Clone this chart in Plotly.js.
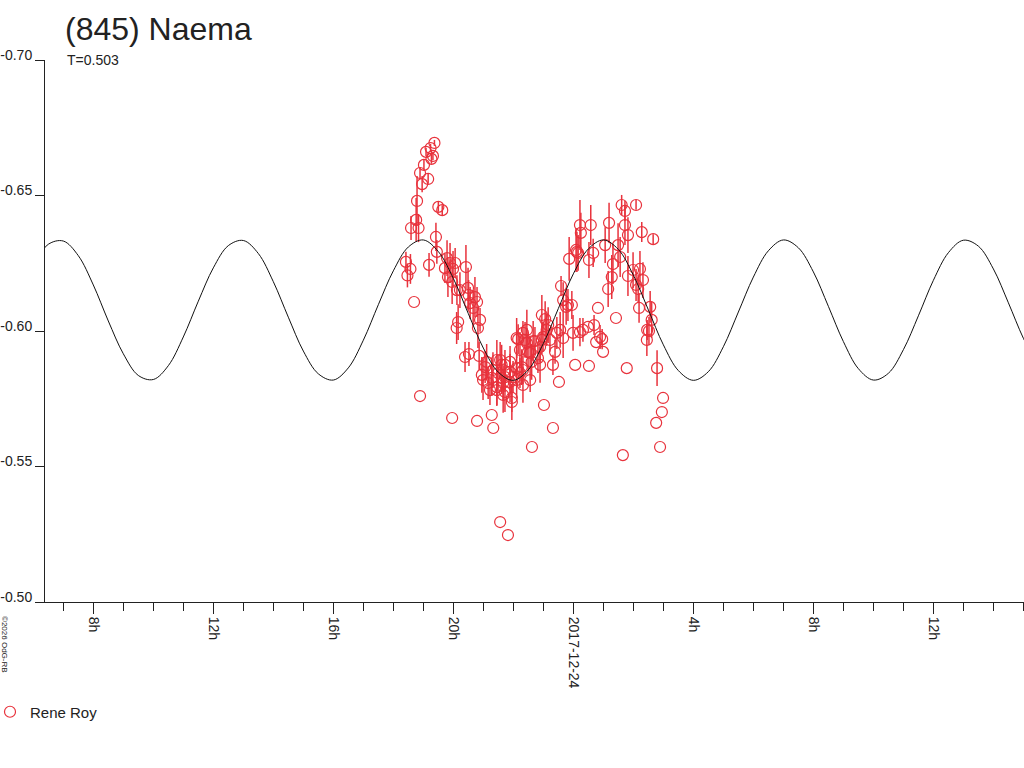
<!DOCTYPE html>
<html>
<head>
<meta charset="utf-8">
<script src="https://cdn.plot.ly/plotly-3.0.1.min.js"></script>
<style>
  html, body { margin: 0; padding: 0; background: #fff; }
  #myDiv { width: 1024px; height: 768px; }
</style>
</head>
<body>
<div id="myDiv"></div>
<script>
// hours are relative to 2017-12-24 00:00 (UT)
var baseDay = Date.UTC(2017, 11, 24);

// model curve, every half hour
var curveHours = [-18, -17.5, -17, -16.5, -16, -15.5, -15, -14.5, -14, -13.5,
  -13, -12.5, -12, -11.5, -11, -10.5, -10, -9.5, -9, -8.5,
  -8, -7.5, -7, -6.5, -6, -5.5, -5, -4.5, -4, -3.5,
  -3, -2.5, -2, -1.5, -1, -0.5, 0, 0.5, 1, 1.5,
  2, 2.5, 3, 3.5, 4, 4.5, 5, 5.5, 6, 6.5,
  7, 7.5, 8, 8.5, 9, 9.5, 10, 10.5, 11, 11.5,
  12, 12.5, 13, 13.5, 14, 14.5, 15, 15.5];
var curveMag = [-0.6244, -0.6320, -0.6332, -0.6278, -0.6170, -0.6037, -0.5916, -0.5836, -0.5821, -0.5872,
  -0.5978, -0.6110, -0.6233, -0.6315, -0.6334, -0.6286, -0.6182, -0.6051, -0.5926, -0.5842,
  -0.5819, -0.5864, -0.5966, -0.6097, -0.6222, -0.6310, -0.6336, -0.6293, -0.6194, -0.6064,
  -0.5937, -0.5848, -0.5818, -0.5857, -0.5954, -0.6083, -0.6211, -0.6303, -0.6336, -0.6301,
  -0.6206, -0.6078, -0.5949, -0.5854, -0.5818, -0.5850, -0.5942, -0.6070, -0.6199, -0.6296,
  -0.6336, -0.6307, -0.6218, -0.6091, -0.5961, -0.5861, -0.5819, -0.5844, -0.5931, -0.6056,
  -0.6187, -0.6289, -0.6335, -0.6313, -0.6229, -0.6104, -0.5973, -0.5869];

// observations (Rene Roy)
var obsHours = [-5.58, -5.53, -5.43, -5.41, -5.31, -5.24, -5.21, -5.16, -5.11, -5.11,
  -5.04, -4.98, -4.91, -4.84, -4.81, -4.76, -4.73, -4.68, -4.63, -4.58,
  -4.55, -4.50, -4.37, -4.28, -4.21, -4.11, -4.01, -3.94, -4.18, -4.04,
  -3.88, -3.78, -3.58, -3.51, -3.49, -3.44, -3.34, -3.28, -3.21, -3.11,
  -3.84, -3.89, -4.04, -3.61, -3.48, -3.18, -3.14, -3.21, -3.05, -3.01,
  -2.94, -2.89, -2.84, -2.78, -2.72, -2.72, -2.68, -2.67, -2.55, -2.55,
  -2.55, -2.51, -2.44, -2.39, -2.39, -2.34, -2.34, -2.28, -2.28, -2.28,
  -2.44, -2.18, -2.11, -2.11, -2.11, -2.05, -2.05, -2.01, -1.89, -1.89,
  -1.89, -1.84, -1.78, -1.78, -1.72, -1.68, -1.68, -1.68, -1.61, -1.55,
  -1.55, -1.51, -1.44, -1.44, -1.39, -1.38, -1.34, -1.28, -1.18, -1.11,
  -1.11, -1.05, -1.05, -1.01, -0.98, -0.94, -0.89, -0.84, -0.78, -0.68,
  -0.68, -0.61, -0.55, -0.48, -0.44, -0.41, -0.34, -0.34, -0.24, -0.14,
  -0.05, -0.18, -0.01, 0.06, 0.09, 0.12, 0.16, 0.22, 0.25, 0.22,
  0.32, 0.49, 0.52, 0.58, 0.66, 0.69, 0.76, 0.82, 0.89, 0.96,
  0.99, 0.52, 1.06, 1.19, 1.16, 1.28, 1.32, 1.42, 1.49, 1.56,
  1.61, 1.65, 1.72, 1.72, 1.78, 1.82, 1.82, 1.99, 2.09, 2.09,
  2.16, 2.19, 2.22, 2.28, 2.32, 2.46, 2.52, 2.56, 2.61, 2.66,
  2.45, 2.76, 2.79, 2.89, 2.95, 2.99];
var obsMag = [-0.6255, -0.6205, -0.6229, -0.6380, -0.6107, -0.6410, -0.6480, -0.6380, -0.6583, -0.5760,
  -0.6542, -0.6613, -0.6661, -0.6561, -0.6244, -0.6675, -0.6635, -0.6646, -0.6694, -0.6347,
  -0.6292, -0.6458, -0.6446, -0.6232, -0.6269, -0.6251, -0.6229, -0.6251, -0.6199, -0.6181,
  -0.6151, -0.6151, -0.6236, -0.6159, -0.6133, -0.6103, -0.6085, -0.6125, -0.6107, -0.6041,
  -0.6033, -0.6011, -0.5679, -0.5904, -0.5915, -0.6011, -0.5908, -0.5668, -0.5838, -0.5819,
  -0.5867, -0.5886, -0.5808, -0.5782, -0.5827, -0.5690, -0.5856, -0.5642, -0.5893, -0.5793,
  -0.5782, -0.5845, -0.5893, -0.5827, -0.5875, -0.5808, -0.5764, -0.5875, -0.5830, -0.5775,
  -0.5295, -0.5247, -0.5886, -0.5849, -0.5812, -0.5753, -0.5738, -0.5830, -0.5863, -0.5819,
  -0.5974, -0.5970, -0.5930, -0.5845, -0.5867, -0.5993, -0.5856, -0.5801, -0.5967, -0.5956,
  -0.6004, -0.5923, -0.5919, -0.5819, -0.5886, -0.5572, -0.5963, -0.5963, -0.5900, -0.5941,
  -0.5875, -0.6059, -0.5967, -0.5978, -0.5727, -0.6044, -0.6004, -0.6022, -0.5967, -0.5875,
  -0.5642, -0.5923, -0.5993, -0.5812, -0.6004, -0.6166, -0.5974, -0.6114, -0.6089, -0.6266,
  -0.6096, -0.6096, -0.5993, -0.5875, -0.6299, -0.6292, -0.6288, -0.6391, -0.6362, -0.5996,
  -0.6004, -0.6015, -0.6262, -0.6391, -0.6288, -0.6022, -0.5959, -0.6085, -0.5978, -0.5970,
  -0.5923, -0.5871, -0.6317, -0.6399, -0.6155, -0.6199, -0.6247, -0.6048, -0.6317, -0.6273,
  -0.6465, -0.5542, -0.6443, -0.6391, -0.5863, -0.6354, -0.6203, -0.6225, -0.6465, -0.6170,
  -0.6155, -0.6085, -0.6229, -0.6365, -0.6188, -0.6004, -0.6000, -0.6089, -0.6041, -0.6339,
  -0.5967, -0.5661, -0.5863, -0.5572, -0.5701, -0.5753];
var obsErr = [0.0037, 0.0044, 0.0055, 0.0044, 0, 0.0081, 0.0092, 0.0052, 0.0022, 0,
  0.0030, 0.0018, 0.0015, 0.0018, 0.0044, 0.0015, 0.0018, 0.0015, 0.0011, 0.0052,
  0.0044, 0.0018, 0.0018, 0.0055, 0.0066, 0.0074, 0.0066, 0.0055, 0.0074, 0.0081,
  0.0055, 0.0066, 0.0081, 0.0074, 0.0055, 0.0059, 0.0066, 0.0074, 0.0055, 0.0044,
  0.0066, 0.0059, 0, 0.0055, 0.0044, 0.0074, 0.0052, 0, 0.0066, 0.0074,
  0.0059, 0.0066, 0.0059, 0.0055, 0.0066, 0, 0.0066, 0, 0.0074, 0.0066,
  0.0059, 0.0066, 0.0066, 0.0059, 0.0074, 0.0066, 0.0066, 0.0055, 0.0055, 0.0074,
  0, 0, 0.0059, 0.0066, 0.0074, 0.0052, 0.0066, 0.0059, 0.0066, 0.0066,
  0.0074, 0.0055, 0.0066, 0.0055, 0.0066, 0.0044, 0.0052, 0.0066, 0.0066, 0.0055,
  0.0074, 0.0066, 0.0059, 0.0044, 0.0066, 0, 0.0074, 0.0052, 0.0055, 0.0055,
  0.0066, 0.0074, 0.0052, 0.0055, 0, 0.0066, 0.0059, 0.0066, 0.0044, 0.0037,
  0, 0.0044, 0.0059, 0, 0.0066, 0.0037, 0.0074, 0.0066, 0.0066, 0.0081,
  0.0052, 0.0059, 0.0066, 0, 0.0081, 0.0074, 0.0066, 0.0092, 0.0074, 0.0052,
  0.0044, 0, 0.0066, 0.0074, 0.0052, 0.0037, 0, 0, 0.0044, 0.0037,
  0, 0, 0.0066, 0.0074, 0.0066, 0.0081, 0.0074, 0, 0.0081, 0.0074,
  0.0037, 0, 0.0037, 0.0074, 0, 0.0066, 0.0074, 0.0066, 0.0018, 0.0059,
  0.0052, 0.0055, 0.0066, 0.0037, 0.0066, 0.0037, 0.0052, 0.0059, 0.0066, 0.0018,
  0.0059, 0, 0.0066, 0, 0, 0];

// axis ticks
var tickHours = [-16, -12, -8, -4, 0, 4, 8, 12];
var tickLabels = ['8h', '12h', '16h', '20h', '2017-12-24', '4h', '8h', '12h'];
var magTicks = [-0.70, -0.65, -0.60, -0.55, -0.50];
var magLabels = ['-0.70', '-0.65', '-0.60', '-0.55', '-0.50'];
var xRangeHours = [-17.61, 15.02];

function toTime(h) { return baseDay + h * 3600000; }

var red = '#e8323c';
var ink = '#222222';
var font = 'Liberation Sans, Arial, sans-serif';

var obsTrace = {
  x: obsHours.map(toTime),
  y: obsMag,
  type: 'scatter',
  mode: 'markers',
  name: 'Rene Roy',
  marker: {
    symbol: 'circle-open',
    size: 11,
    color: red,
    line: {width: 1.2, color: red}
  },
  error_y: {
    type: 'data',
    array: obsErr,
    visible: true,
    color: red,
    thickness: 1.5,
    width: 0
  },
  hoverinfo: 'x+y'
};

var curveTrace = {
  x: curveHours.map(toTime),
  y: curveMag,
  type: 'scatter',
  mode: 'lines',
  line: {color: '#111111', width: 1, shape: 'spline', smoothing: 1},
  showlegend: false,
  hoverinfo: 'skip'
};

var layout = {
  width: 1024,
  height: 768,
  margin: {l: 45, r: 0, t: 60, b: 166, autoexpand: false},
  paper_bgcolor: '#ffffff',
  plot_bgcolor: '#ffffff',
  font: {family: font, color: ink, size: 14},
  title: {
    text: '(845) Naema',
    font: {family: font, size: 32, color: ink},
    x: 65 / 1024,
    xanchor: 'left',
    y: 1 - 29 / 768,
    yanchor: 'middle'
  },
  xaxis: {
    type: 'date',
    range: xRangeHours.map(toTime),
    showgrid: false,
    zeroline: false,
    showline: true,
    linecolor: ink,
    linewidth: 1,
    ticks: 'outside',
    ticklen: 11,
    tickcolor: ink,
    tickwidth: 1,
    tickmode: 'array',
    tickvals: tickHours.map(toTime),
    ticktext: tickLabels,
    tickangle: 90,
    tickfont: {family: font, size: 14, color: ink},
    minor: {
      tickmode: 'linear',
      tick0: baseDay,
      dtick: 3600000,
      ticks: 'outside',
      ticklen: 8,
      tickcolor: ink,
      tickwidth: 1,
      showgrid: false
    },
    automargin: false,
    fixedrange: true
  },
  yaxis: {
    range: [-0.50, -0.70],
    showgrid: false,
    zeroline: false,
    showline: true,
    linecolor: ink,
    linewidth: 1,
    ticks: 'outside',
    ticklen: 9,
    tickcolor: ink,
    tickmode: 'array',
    tickvals: magTicks,
    ticktext: magLabels,
    ticklabelstandoff: 0,
    ticklabelshift: 5,
    tickfont: {family: font, size: 14, color: ink},
    automargin: false,
    fixedrange: true
  },
  showlegend: true,
  legend: {
    x: -55 / 979,
    xanchor: 'left',
    y: -110 / 542,
    yanchor: 'middle',
    bgcolor: 'rgba(0,0,0,0)',
    font: {family: font, size: 15, color: ink}
  },
  annotations: [
    {
      text: 'T=0.503',
      xref: 'paper', yref: 'paper',
      x: 20 / 979, y: 1.0,
      xanchor: 'left', yanchor: 'middle',
      showarrow: false,
      font: {family: font, size: 14, color: ink}
    },
    {
      text: '\u00a92026 OdG-RB',
      xref: 'paper', yref: 'paper',
      x: -40 / 979, y: -42 / 542,
      xanchor: 'center', yanchor: 'middle',
      textangle: 90,
      showarrow: false,
      font: {family: font, size: 8, color: ink}
    }
  ]
};

var config = {staticPlot: true, displayModeBar: false};

Plotly.newPlot('myDiv', [obsTrace, curveTrace], layout, config);
</script>
</body>
</html>
